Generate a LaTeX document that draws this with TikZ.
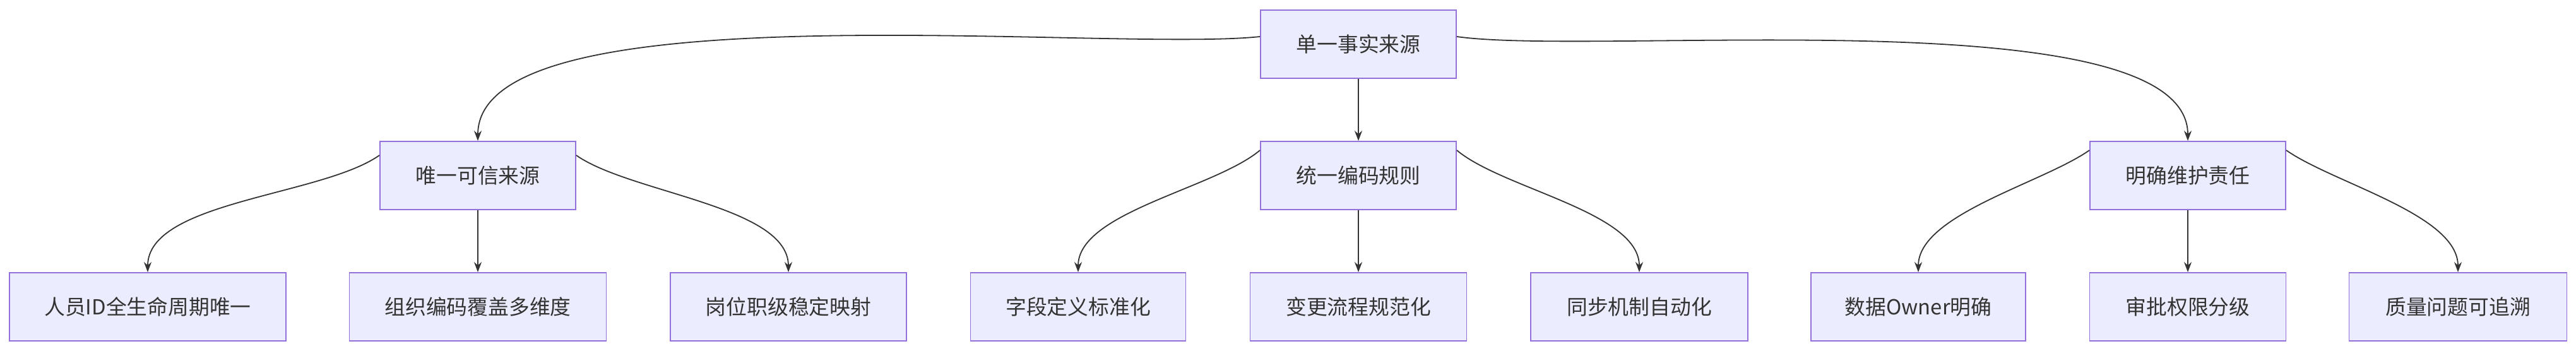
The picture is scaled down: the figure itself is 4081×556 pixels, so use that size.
\documentclass[tikz,border=0pt]{standalone}
\usepackage{fontspec}
\setmainfont{Noto Sans CJK SC}
\usetikzlibrary{arrows.meta}
\definecolor{boxfill}{HTML}{ECECFF}
\definecolor{boxline}{HTML}{9370DB}
\definecolor{edge}{HTML}{333333}
\tikzset{every picture/.style={line width=0.3pt}}
\tikzset{
  box/.style={draw=boxline, fill=boxfill, line width=0.45pt, minimum height=27pt, inner sep=0pt, font=\fontsize{8.2pt}{10pt}\selectfont, text=edge},
  link/.style={draw=edge, line width=0.45pt, -{Stealth[length=4pt,width=3pt]}},
}
\begin{document}
\begin{tikzpicture}[x=0.25pt,y=0.25pt,yscale=-1]
		\useasboundingbox (0,0) rectangle (4081,556);

		% top level
		\node[box, minimum width=77.5pt] (root) at (2152,70) {单一事实来源};

		% second level
		\node[box, minimum width=77.5pt] (src) at (757,278) {唯一可信来源};
		\node[box, minimum width=77.5pt] (code) at (2152,278) {统一编码规则};
		\node[box, minimum width=77.5pt] (own) at (3466,278) {明确维护责任};

		% third level
		\node[box, minimum width=109.5pt] (idx) at (234,486) {人员ID全生命周期唯一};
		\node[box, minimum width=101.75pt] (org) at (757,486) {组织编码覆盖多维度};
		\node[box, minimum width=93.5pt] (pos) at (1249,486) {岗位职级稳定映射};
		\node[box, minimum width=85.25pt] (fld) at (1708,486) {字段定义标准化};
		\node[box, minimum width=85.75pt] (chg) at (2152,486) {变更流程规范化};
		\node[box, minimum width=86pt] (syn) at (2597,486) {同步机制自动化};
		\node[box, minimum width=85pt] (dat) at (3039,486) {数据Owner明确};
		\node[box, minimum width=77.75pt] (apr) at (3466,486) {审批权限分级};
		\node[box, minimum width=86.25pt] (qua) at (3894,486) {质量问题可追溯};

		% connectors
		\draw[link] ([yshift=-3pt]root.west) to[out=174,in=-90,looseness=0.5] (src.north);
		\draw[link] (root) -- (code);
		\draw[link] ([yshift=-3pt]root.east) to[out=8,in=-90,looseness=0.5] (own.north);
		\draw[link] ([yshift=-8pt]src.west) to[out=145,in=-90,looseness=0.7] (idx.north);
		\draw[link] (src) -- (org);
		\draw[link] ([yshift=-8pt]src.east) to[out=35,in=-90,looseness=0.7] (pos.north);
		\draw[link] ([yshift=-10pt]code.west) to[out=140,in=-90,looseness=0.7] (fld.north);
		\draw[link] (code) -- (chg);
		\draw[link] ([yshift=-10pt]code.east) to[out=40,in=-90,looseness=0.7] (syn.north);
		\draw[link] ([yshift=-10pt]own.west) to[out=145,in=-90,looseness=0.7] (dat.north);
		\draw[link] (own) -- (apr);
		\draw[link] ([yshift=-10pt]own.east) to[out=35,in=-90,looseness=0.7] (qua.north);
\end{tikzpicture}
\end{document}
